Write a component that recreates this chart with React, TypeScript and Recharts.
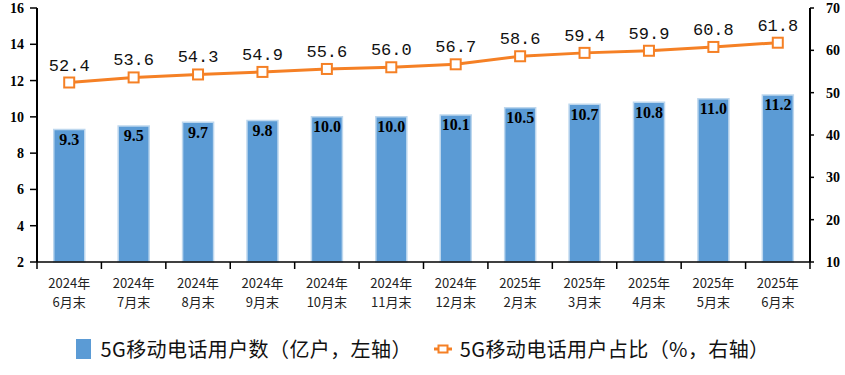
import { ComposedChart, Bar, Line, XAxis, YAxis, Legend, LabelList } from 'recharts';

const years = ['2024年', '2024年', '2024年', '2024年', '2024年', '2024年', '2024年', '2025年', '2025年', '2025年', '2025年', '2025年'];
const months = ['6月末', '7月末', '8月末', '9月末', '10月末', '11月末', '12月末', '2月末', '3月末', '4月末', '5月末', '6月末'];
const users = [9.3, 9.5, 9.7, 9.8, 10.0, 10.0, 10.1, 10.5, 10.7, 10.8, 11.0, 11.2];
const share = [52.4, 53.6, 54.3, 54.9, 55.6, 56.0, 56.7, 58.6, 59.4, 59.9, 60.8, 61.8];
const leftTicks = [2, 4, 6, 8, 10, 12, 14, 16];
const rightTicks = [10, 20, 30, 40, 50, 60, 70];

const data = months.map((m, i) => ({ key: i, year: years[i], month: m, users: users[i], share: share[i] }));

const W = 845;
const H = 375;
const LEFT_W = 37;
const RIGHT_W = 35;
const band = (W - LEFT_W - RIGHT_W) / months.length;

const BAR = '#5B9BD5';
const ORANGE = '#F58025';
const serif = '"Liberation Serif", "Times New Roman", serif';
const cjk = '"Noto Sans CJK SC", sans-serif';

const XTick = (props: any) => {
  const { x, y, payload, index } = props;
  const d = data[payload.value];
  return (
    <g>
      <line x1={x - band / 2} x2={x - band / 2} y1={y - 8} y2={y - 1} stroke="#000" strokeWidth={1.5} />
      {index === months.length - 1 && (
        <line x1={x + band / 2} x2={x + band / 2} y1={y - 8} y2={y - 1} stroke="#000" strokeWidth={1.5} />
      )}
      <text x={x} y={y + 18} textAnchor="middle" fontSize={13} fontFamily={cjk} fill="#222">
        {d.year}
      </text>
      <text x={x} y={y + 37} textAnchor="middle" fontSize={13} fontFamily={cjk} fill="#222">
        {d.month}
      </text>
    </g>
  );
};

const LegendContent = () => (
  <div style={{ display: 'flex', justifyContent: 'center', alignItems: 'center', fontFamily: cjk, fontSize: 20, color: '#111', paddingTop: 12, letterSpacing: 0.4 }}>
    <span style={{ display: 'inline-block', width: 15, height: 20, background: BAR, marginRight: 10 }} />
    <span style={{ marginRight: 22 }}>5G移动电话用户数（亿户，左轴）</span>
    <svg width={18} height={12} style={{ marginRight: 8 }}>
      <line x1={0} x2={18} y1={6} y2={6} stroke={ORANGE} strokeWidth={3} />
      <rect x={4.5} y={2.5} width={9} height={7} fill="#fff" stroke={ORANGE} strokeWidth={2} />
    </svg>
    <span>5G移动电话用户占比（%，右轴）</span>
  </div>
);

const Square = (props: any) => {
  const { cx, cy } = props;
  if (cx == null || cy == null) return null;
  return <rect x={cx - 5} y={cy - 5} width={10} height={10} fill="#fff" stroke={ORANGE} strokeWidth={2} />;
};

export default function App() {
  return (
    <div style={{ position: 'absolute', left: 0, top: 0, width: W, height: H, background: '#fff' }}>
      <ComposedChart width={W} height={H} data={data} margin={{ top: 8, right: 0, bottom: 0, left: 0 }} barCategoryGap="26%">
        <XAxis
          dataKey="key"
          height={60}
          axisLine={{ stroke: '#000', strokeWidth: 1.5 }}
          tickLine={false}
          tick={<XTick />}
          interval={0}
        />
        <YAxis
          yAxisId="left"
          width={LEFT_W}
          domain={[2, 16]}
          ticks={leftTicks}
          axisLine={{ stroke: '#000', strokeWidth: 2 }}
          tickLine={{ stroke: '#000', strokeWidth: 1.5 }}
          tickSize={7}
          tickMargin={6}
          tick={{ fill: '#000', fontSize: 14, fontWeight: 'bold', fontFamily: serif }}
        />
        <YAxis
          yAxisId="right"
          orientation="right"
          width={RIGHT_W}
          domain={[10, 70]}
          ticks={rightTicks}
          axisLine={{ stroke: '#000', strokeWidth: 2 }}
          tickLine={{ stroke: '#000', strokeWidth: 1.5 }}
          tickSize={4}
          tickMargin={12}
          tick={{ fill: '#000', fontSize: 14, fontWeight: 'bold', fontFamily: serif }}
        />
        <Legend verticalAlign="bottom" height={53} content={<LegendContent />} />
        <Bar yAxisId="left" dataKey="users" fill={BAR} stroke="#BDD7EE" strokeWidth={1.5} isAnimationActive={false}>
          <LabelList
            dataKey="users"
            position="insideTop"
            offset={4}
            formatter={(v: any) => Number(v).toFixed(1)}
            style={{ fill: '#000', fontSize: 16, fontWeight: 'bold', fontFamily: serif }}
          />
        </Bar>
        <Line
          yAxisId="right"
          dataKey="share"
          stroke={ORANGE}
          strokeWidth={3}
          dot={<Square />}
          activeDot={false}
          isAnimationActive={false}
        >
          <LabelList
            dataKey="share"
            position="top"
            offset={12}
            formatter={(v: any) => Number(v).toFixed(1)}
            style={{ fill: '#111', fontSize: 17, fontFamily: '"Liberation Mono", monospace' }}
          />
        </Line>
      </ComposedChart>
    </div>
  );
}
